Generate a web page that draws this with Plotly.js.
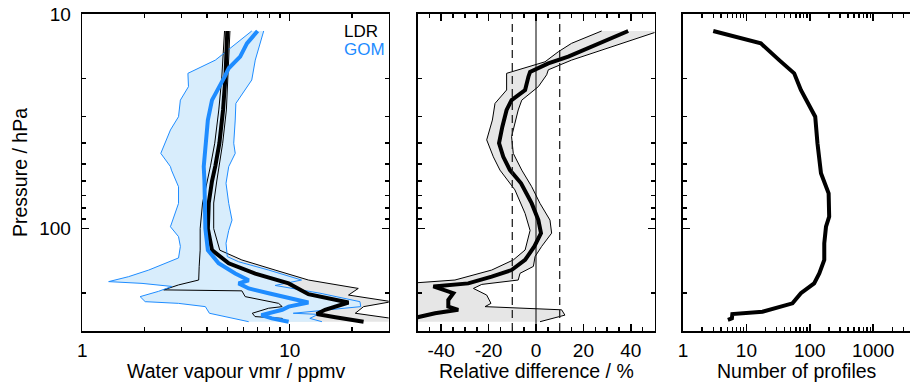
<!DOCTYPE html>
<html><head><meta charset="utf-8">
<script src="https://cdn.plot.ly/plotly-3.0.1.min.js"></script>
<style>html,body{margin:0;padding:0;background:#fff}#chart{width:910px;height:392px}</style>
</head><body><div id="chart"></div>
<script>
// ---------- Panel 1: water vapour vmr (ppmv) vs pressure (hPa) ----------
const ldrP    = [12, 19.6, 28, 40, 51, 60, 76, 100, 126, 145, 162, 180, 202, 207.5, 221, 239, 250, 259, 271.5];
const ldrMean = [5.0, 4.9, 4.77, 4.58, 4.38, 4.22, 4.07, 4.03, 4.22, 5.08, 6.82, 9.88, 12.3, 14.3, 19.2, 14.8, 13.5, 16.6, 22.7];
const ldrLoP  = [12, 20, 28, 40, 51, 60, 76, 100, 126, 150, 173.6, 183, 193, 195, 207.5, 223, 231, 235, 248, 257, 262, 271.5];
const ldrLo   = [4.85, 4.7, 4.55, 4.35, 4.15, 4.0, 3.8, 3.7, 3.7, 3.66, 3.64, 2.91, 2.47, 5.88, 6.1, 8.84, 9.2, 7.91, 6.6, 6.8, 9.2, 9.5];
const ldrHiP  = [12, 20, 28, 40, 51, 60, 76, 100, 126, 140, 156, 173.6, 190, 204, 219, 231, 248, 262, 271.5];
const ldrHi   = [5.15, 5.05, 4.95, 4.75, 4.55, 4.45, 4.3, 4.3, 4.6, 5.88, 8.5, 12.3, 21.4, 19.2, 31, 22.7, 20.7, 31, 31];

const gomP    = [12, 13.7, 15.8, 17.9, 19.6, 25.2, 31.2, 40, 51.4, 60, 76, 100, 126, 145, 162, 174, 180, 190, 200, 211, 221, 231, 239, 253, 262, 271.5];
const gomMean = [7.0, 6.22, 5.77, 5.08, 4.86, 4.22, 4.03, 3.92, 3.85, 3.88, 3.9, 3.92, 4.03, 4.54, 5.46, 6.34, 5.67, 6.34, 7.91, 9.88, 12.3, 9.88, 9.2, 7.3, 8.2, 9.88];
const gomLoP  = [12, 16.4, 18.9, 21.8, 25.2, 30.1, 34.7, 44.6, 51.4, 53.4, 63.8, 76.3, 98, 109, 121, 137, 156, 167.5, 176.6, 180, 186, 196, 207.5, 219, 223, 231, 248, 257, 271.5];
const gomLo   = [6.56, 4.38, 3.23, 3.25, 2.97, 2.91, 2.66, 2.39, 2.66, 2.69, 2.91, 2.91, 2.66, 2.91, 2.97, 2.91, 2.09, 1.67, 1.34, 1.94, 2.70, 2.33, 1.90, 2.01, 2.91, 3.92, 4.1, 4.89, 6.34];
const gomHiP  = [12, 16.4, 20.3, 22.6, 26.1, 31.2, 40, 44.6, 51.4, 61.5, 76.3, 91.3, 102, 117, 135, 142.7, 156, 173.6, 184, 200, 219, 231, 248, 251, 262, 271.5];
const gomHi   = [7.49, 6.82, 6.56, 6.1, 5.5, 5.46, 5.37, 5.46, 5.08, 4.93, 5.08, 5.27, 5.08, 4.93, 5.0, 5.67, 7.91, 11.4, 8.5, 14, 21.8, 22, 10.4, 13.7, 12.5, 14.3];

// ---------- Panel 2: relative difference (%) ----------
const relP   = [12, 13.7, 15.8, 17, 18.6, 19.6, 22.6, 25.2, 28, 33.5, 40, 46.3, 53.4, 61.5, 76.3, 91.3, 105, 121, 140, 156, 167.5, 180, 183, 186, 200, 215, 231, 239, 248, 262];
const relV   = [38.9, 27, 13.6, 5.2, -2.5, -3.2, -4.6, -10.3, -12.4, -14.2, -15.6, -13.8, -11, -6.3, -1.8, 1.0, 2.1, -0.7, -4.6, -10.3, -18.7, -28.6, -38.4, -43.3, -34.9, -37, -37, -32.8, -42.6, -52];
const relLoP = [12, 13.7, 15, 16.7, 18.9, 22.6, 26.1, 31.2, 38.6, 46.3, 53.4, 66, 85, 102, 125.8, 140, 156, 173.6, 182, 271.5];
const relLo  = [27.7, 15, 9.4, 3.8, -12.4, -12.4, -17.3, -18.4, -20.8, -18, -15.2, -8.9, -4.6, -2.5, -4.6, -9.6, -18.7, -34.2, -60, -60];
const relHiP = [12, 13.7, 15, 16.4, 18.2, 19.2, 21.8, 25.2, 28, 37.3, 44.6, 51.4, 53.4, 63.8, 76.3, 91.3, 105, 121, 135, 150, 161.6, 173.6, 182, 190, 204, 223, 231, 239, 253, 271.5];
const relHi  = [52, 36.2, 24.9, 15, 5.2, 4.5, 1, -6, -7.5, -10.3, -9.6, -6.75, -6, -1.8, 1.7, 5.9, 6.6, 2.4, -0.4, -1.1, -6.75, -7.5, -22.9, -26.4, -20.8, -19, -21.5, 10.8, 12.2, 1.7];
const relRefLines = [-10, 0, 10];

// ---------- Panel 3: number of profiles ----------
const numP = [12, 13.7, 16.4, 18.9, 22.6, 30.1, 40, 55.2, 68.5, 88, 98, 117, 140, 161.6, 180, 200, 223, 231, 244, 250, 262, 266];
const numV = [3.0, 16.9, 32.9, 56.7, 72.3, 121.7, 132, 150, 198, 202, 180, 169, 169, 141, 117, 72.3, 53.3, 33, 17.9, 6.0, 5.9, 5.1];

// ---------- tick labels / titles ----------
const pTickVals = [10, 100];
const pTickText = ['10', '100'];
const pMinor = [20, 30, 40, 50, 60, 70, 80, 90, 200, 300];
const vmrTickVals = [1, 10];
const vmrTickText = ['1', '10'];
const vmrMinor = [2, 3, 4, 5, 6, 7, 8, 9, 20, 30];
const relTickVals = [-40, -20, 0, 20, 40];
const relTickText = ['-40', '-20', '0', '20', '40'];
const relMinor = [-45, -35, -30, -25, -15, -10, -5, 5, 10, 15, 25, 30, 35, 45];
const numTickVals = [1, 10, 100, 1000];
const numTickText = ['1', '10', '100', '1000'];
const numMinor = [2,3,4,5,6,7,8,9,20,30,40,50,60,70,80,90,200,300,400,500,600,700,800,900,2000,3000];
const xTitles = ['Water vapour vmr / ppmv', 'Relative difference / %', 'Number of profiles'];
const yTitle = 'Pressure / hPa';
const seriesNames = ['LDR', 'GOM'];

const FONT = 'Liberation Sans, Arial, Helvetica, sans-serif';
const BLUE = '#1e8cff';
const BLUEFILL = '#d8edfc';
const GRAYFILL = '#e6e6e6';

function band(lo, loP, hi, hiP) {
  return { x: lo.concat(hi.slice().reverse()), y: loP.concat(hiP.slice().reverse()) };
}
const ldrBand = band(ldrLo, ldrLoP, ldrHi, ldrHiP);
const gomBand = band(gomLo, gomLoP, gomHi, gomHiP);
const relBand = band(relLo, relLoP, relHi, relHiP);

const traces = [
  {x: ldrBand.x, y: ldrBand.y, xaxis: 'x', yaxis: 'y', mode: 'none', fill: 'toself', fillcolor: GRAYFILL, hoverinfo: 'skip'},
  {x: gomBand.x, y: gomBand.y, xaxis: 'x', yaxis: 'y', mode: 'none', fill: 'toself', fillcolor: BLUEFILL, hoverinfo: 'skip'},
  {x: ldrLo, y: ldrLoP, xaxis: 'x', yaxis: 'y', mode: 'lines', line: {color: 'black', width: 1}},
  {x: ldrHi, y: ldrHiP, xaxis: 'x', yaxis: 'y', mode: 'lines', line: {color: 'black', width: 1}},
  {x: gomLo, y: gomLoP, xaxis: 'x', yaxis: 'y', mode: 'lines', line: {color: BLUE, width: 1}},
  {x: gomHi, y: gomHiP, xaxis: 'x', yaxis: 'y', mode: 'lines', line: {color: BLUE, width: 1}},
  {x: ldrMean, y: ldrP, xaxis: 'x', yaxis: 'y', mode: 'lines', line: {color: 'black', width: 4}},
  {x: gomMean, y: gomP, xaxis: 'x', yaxis: 'y', mode: 'lines', line: {color: BLUE, width: 4}},

  {x: relBand.x, y: relBand.y, xaxis: 'x2', yaxis: 'y2', mode: 'none', fill: 'toself', fillcolor: GRAYFILL, hoverinfo: 'skip'},
  {x: relLo, y: relLoP, xaxis: 'x2', yaxis: 'y2', mode: 'lines', line: {color: 'black', width: 1}},
  {x: relHi, y: relHiP, xaxis: 'x2', yaxis: 'y2', mode: 'lines', line: {color: 'black', width: 1}},
  {x: relV, y: relP, xaxis: 'x2', yaxis: 'y2', mode: 'lines', line: {color: 'black', width: 4}},

  {x: numV, y: numP, xaxis: 'x3', yaxis: 'y3', mode: 'lines', line: {color: 'black', width: 4}}
];

const axBase = {
  showline: true, linecolor: 'black', linewidth: 1.6, ticks: 'inside', ticklen: 7, tickwidth: 1.5,
  tickcolor: 'black', showgrid: false, zeroline: false, mirror: 'allticks',
  tickfont: {family: FONT, size: 19, color: 'black'}
};
const yRange = [Math.log10(300), 1];
function minorOf(vals) {
  return {tickmode: 'array', tickvals: vals, ticklen: 4, tickwidth: 1.5, tickcolor: 'black', ticks: 'inside', showgrid: false};
}

const shapes = relRefLines.map(v => ({
  type: 'line', xref: 'x2', yref: 'y2 domain', x0: v, x1: v, y0: 0, y1: 1,
  line: {color: v === 0 ? 'black' : '#222', width: v === 0 ? 1 : 1.3, dash: v === 0 ? 'solid' : '8px,5px'}
}));

const dom1 = [82.3/910, 388.7/910], dom2 = [417.5/910, 654.5/910], dom3 = [683/910, 1];
const plotTop = 14, plotBottom = 331;
const pyToPaper = py => (plotBottom - py) / (plotBottom - plotTop);

const titleAnn = [dom1, dom2, dom3].map((d, i) => ({
  xref: 'paper', yref: 'paper', x: (d[0] + d[1]) / 2, y: pyToPaper(371), xanchor: 'center', yanchor: 'middle',
  text: xTitles[i], showarrow: false, font: {family: FONT, size: 19.5, color: 'black'}
}));

const layout = {
  width: 910, height: 392,
  margin: {l: 0, r: 0, t: plotTop, b: 392 - plotBottom},
  paper_bgcolor: 'white', plot_bgcolor: 'white',
  showlegend: false,
  font: {family: FONT, color: 'black'},
  xaxis: Object.assign({}, axBase, {
    domain: dom1, anchor: 'y', type: 'log', range: [0, Math.log10(30)],
    tickmode: 'array', tickvals: vmrTickVals, ticktext: vmrTickText, ticklabelstandoff: 2,
    minor: minorOf(vmrMinor)
  }),
  yaxis: Object.assign({}, axBase, {
    domain: [0, 1], anchor: 'x', type: 'log', range: yRange,
    tickmode: 'array', tickvals: pTickVals, ticktext: pTickText, ticklabelstandoff: 6,
    minor: minorOf(pMinor),
    title: {text: yTitle, font: {family: FONT, size: 19.5}, standoff: 6}
  }),
  xaxis2: Object.assign({}, axBase, {
    domain: dom2, anchor: 'y2', range: [-50, 50],
    tickmode: 'array', tickvals: relTickVals, ticktext: relTickText, ticklabelstandoff: 2,
    minor: minorOf(relMinor)
  }),
  yaxis2: Object.assign({}, axBase, {
    domain: [0, 1], anchor: 'x2', type: 'log', range: yRange,
    tickmode: 'array', tickvals: pTickVals, showticklabels: false, minor: minorOf(pMinor)
  }),
  xaxis3: Object.assign({}, axBase, {
    domain: dom3, anchor: 'y3', type: 'log', range: [0, 3.58],
    tickmode: 'array', tickvals: numTickVals, ticktext: numTickText, ticklabelstandoff: 2,
    minor: minorOf(numMinor)
  }),
  yaxis3: Object.assign({}, axBase, {
    domain: [0, 1], anchor: 'x3', type: 'log', range: yRange, mirror: false,
    tickmode: 'array', tickvals: pTickVals, showticklabels: false, minor: minorOf(pMinor)
  }),
  shapes: shapes,
  annotations: titleAnn.concat([
    {xref: 'paper', yref: 'paper', x: 342/910, y: pyToPaper(32), xanchor: 'left', yanchor: 'middle',
     text: seriesNames[0], showarrow: false, font: {family: FONT, size: 17, color: 'black'}},
    {xref: 'paper', yref: 'paper', x: 342/910, y: pyToPaper(50), xanchor: 'left', yanchor: 'middle',
     text: seriesNames[1], showarrow: false, font: {family: FONT, size: 17, color: BLUE}}
  ])
};

Plotly.newPlot('chart', traces, layout, {staticPlot: true, displayModeBar: false});
</script></body></html>
